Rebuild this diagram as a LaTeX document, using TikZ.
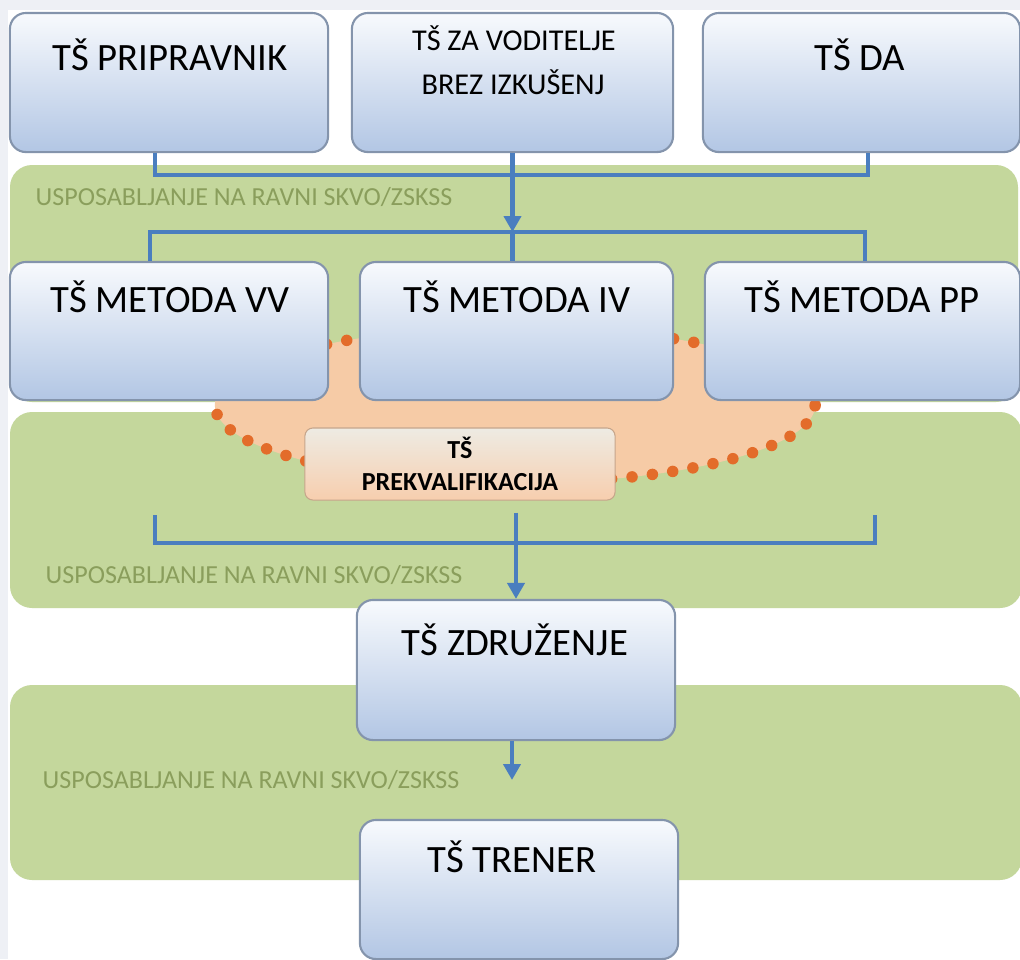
\documentclass[tikz,border=0pt]{standalone}
\usepackage{fontspec}
\setmainfont{Carlito}
\usepackage{xcolor}
\usetikzlibrary{arrows.meta, positioning, shapes.geometric}
\definecolor{bandgreen}{HTML}{C4D79C}
\definecolor{labgreen}{HTML}{8A9E5C}
\definecolor{linkblue}{HTML}{4A7EBF}
\definecolor{boxtop}{HTML}{F8FAFD}
\definecolor{boxbot}{HTML}{B2C6E4}
\definecolor{boxline}{HTML}{8494AC}
\definecolor{peach}{HTML}{F6CBA6}
\definecolor{dotorange}{HTML}{E36C2A}
\definecolor{prektop}{HTML}{EEEBE3}
\definecolor{prekbot}{HTML}{F7CEAE}
\definecolor{margin}{HTML}{EEF0F5}

\begin{document}
\begin{tikzpicture}[x=0.01cm, y=-0.01cm,
  tsbox/.style={draw=boxline, line width=0.6pt, rounded corners=0.16cm,
    top color=boxtop, bottom color=boxbot, minimum width=3.18cm, minimum height=1.39cm, inner sep=0pt},
  title/.style={anchor=base, inner sep=0pt, text=black, font=\fontsize{11}{13}\selectfont},
  smalltitle/.style={title, font=\fontsize{8.6}{10}\selectfont},
  band/.style={fill=bandgreen, rounded corners=0.22cm},
  bandlabel/.style={anchor=west, inner sep=0pt, text=labgreen, font=\fontsize{7.4}{9}\selectfont},
  link/.style={draw=linkblue, line width=1.2pt},
  flow/.style={link, -{Triangle[width=0.17cm, length=0.16cm]}},
  prekbox/.style={draw=prekbot!80!black, line width=0.3pt, rounded corners=0.08cm,
    top color=prektop, bottom color=prekbot, minimum width=3.1cm, minimum height=0.72cm,
    align=center, inner sep=0pt, font=\fontsize{7.4}{9}\selectfont\bfseries}]
  \useasboundingbox (0,0) rectangle (1020,959);
  \fill[margin] (0,0) rectangle (1020,959);
  \fill[white] (8,10) rectangle (1020,959);

  % green bands
  \fill[band] (10,165) rectangle (1018,402);
  \fill[band] (10,412) rectangle (1022,608);
  \fill[band] (10,685) rectangle (1022,880);

  % prekvalifikacija area
  \fill[peach] (515,405) ellipse [x radius=3cm, y radius=0.78cm];
  \draw[dotorange, line width=0.115cm, line cap=round, dash pattern=on 0pt off 0.205cm]
    (515,405) ellipse [x radius=3cm, y radius=0.78cm];

  \node[tsbox] (prip) at (169,82.5) {};
  \node[tsbox, minimum width=3.21cm] (vod) at (512.5,82.5) {};
  \node[tsbox, minimum width=3.17cm] (da) at (861.5,82.5) {};
  \node[tsbox, minimum height=1.38cm] (vv) at (169,331) {};
  \node[tsbox, minimum width=3.13cm, minimum height=1.38cm] (iv) at (516.5,331) {};
  \node[tsbox, minimum width=3.15cm, minimum height=1.38cm] (pp) at (862.5,331) {};
  \node[tsbox, minimum height=1.4cm] (zdr) at (516,670) {};
  \node[tsbox] (tre) at (519,889.5) {};

  \node[title] (priptxt) at (170,70) {TŠ PRIPRAVNIK};
  \node[smalltitle] (vodtxta) at (514,50) {TŠ ZA VODITELJE};
  \node[smalltitle] (vodtxtb) at (513,94) {BREZ IZKUŠENJ};
  \node[title] (datxt) at (860,70) {TŠ DA};
  \node[title] (vvtxt) at (170,312) {TŠ METODA VV};
  \node[title] (ivtxt) at (517,312) {TŠ METODA IV};
  \node[title] (pptxt) at (862,312) {TŠ METODA PP};
  \node[title] (zdrtxt) at (515,655) {TŠ ZDRUŽENJE};
  \node[title] (tretxt) at (512,872) {TŠ TRENER};

  \node[prekbox] (prek) at (460,464) {TŠ\\PREKVALIFIKACIJA};

  \node[bandlabel] (laba) at (35,197) {USPOSABLJANJE NA RAVNI SKVO/ZSKSS};
  \node[bandlabel] (labb) at (45,575) {USPOSABLJANJE NA RAVNI SKVO/ZSKSS};
  \node[bandlabel] (labc) at (42,780) {USPOSABLJANJE NA RAVNI SKVO/ZSKSS};

  % connectors
  \coordinate (busal) at (155,175);
  \coordinate (busar) at (868,175);
  \coordinate (busbl) at (150,232);
  \coordinate (busbr) at (865,232);
  \coordinate (buscl) at (155,543);
  \coordinate (buscr) at (875,543);
  \coordinate (dropl) at (155,515);
  \coordinate (dropr) at (875,515);
  \coordinate (trein) at (512,780);

  \draw[link] (busal |- prip.south) -- (busal) -- (busar) -- (busar |- da.south);
  \draw[flow] (vod.south) -- (vod.south |- busbl);
  \draw[link] (busbl |- vv.north) -- (busbl) -- (busbr) -- (busbr |- pp.north);
  \draw[link] (vod.south |- busbl) -- (vod.south |- iv.north);
  \draw[link] (dropl) -- (buscl) -- (buscr) -- (dropr);
  \draw[flow] (zdr.north |- prek.south) ++(0,12) -- (zdr.north);
  \draw[flow] (zdr.south -| trein) -- (trein);
\end{tikzpicture}
\end{document}
